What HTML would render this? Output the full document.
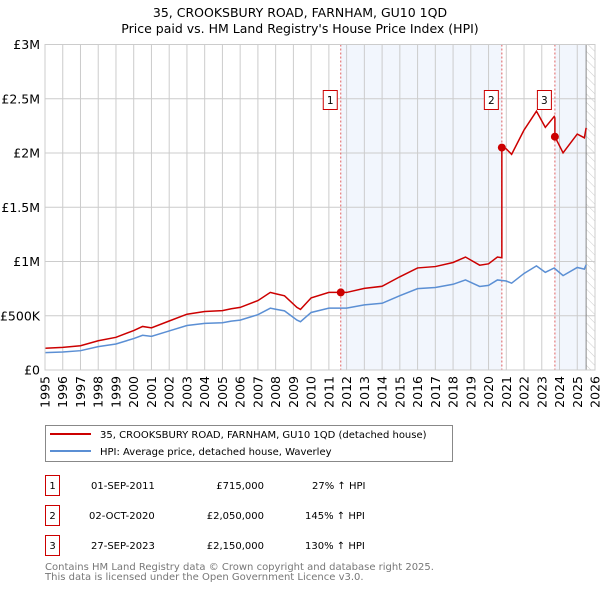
<!DOCTYPE html>
<html><head><meta charset="utf-8"><style>
body{margin:0;background:#fff;font-family:"DejaVu Sans","Liberation Sans",sans-serif;}
svg{display:block}
</style></head><body>
<svg id="c" width="600" height="590" xmlns="http://www.w3.org/2000/svg" font-family="DejaVu Sans, Liberation Sans, sans-serif">
<text x="300" y="17" text-anchor="middle" font-size="12.5" fill="#000">35, CROOKSBURY ROAD, FARNHAM, GU10 1QD</text>
<text x="300" y="33" text-anchor="middle" font-size="12.5" fill="#000">Price paid vs. HM Land Registry's House Price Index (HPI)</text>
<defs><pattern id="hatch" width="6" height="6" patternUnits="userSpaceOnUse" patternTransform="rotate(-45)"><line x1="0" y1="0" x2="0" y2="6" stroke="#ccc" stroke-width="1"/></pattern></defs>
<g id="plot"></g>
<g>
<rect x="45.5" y="425.5" width="407" height="36" fill="#fff" stroke="#888"/>
<line x1="50" y1="434" x2="91" y2="434" stroke="#cc0000" stroke-width="2"/>
<text x="100" y="438" font-size="10">35, CROOKSBURY ROAD, FARNHAM, GU10 1QD (detached house)</text>
<line x1="50" y1="451" x2="91" y2="451" stroke="#5b8fd4" stroke-width="2"/>
<text x="100" y="455" font-size="10">HPI: Average price, detached house, Waverley</text>
</g>
<g font-size="10">
<rect x="45.5" y="475.5" width="14" height="20" fill="#fff" stroke="#cc0000"/><text x="52.5" y="489" text-anchor="middle">1</text>
<text x="91" y="489">01-SEP-2011</text><text x="264" y="489" text-anchor="end">£715,000</text><text x="312" y="489">27% ↑ HPI</text>
<rect x="45.5" y="505.5" width="14" height="20" fill="#fff" stroke="#cc0000"/><text x="52.5" y="519" text-anchor="middle">2</text>
<text x="89" y="519">02-OCT-2020</text><text x="264" y="519" text-anchor="end">£2,050,000</text><text x="305" y="519">145% ↑ HPI</text>
<rect x="45.5" y="535.5" width="14" height="20" fill="#fff" stroke="#cc0000"/><text x="52.5" y="549" text-anchor="middle">3</text>
<text x="91" y="549">27-SEP-2023</text><text x="264" y="549" text-anchor="end">£2,150,000</text><text x="305" y="549">130% ↑ HPI</text>
</g>
<text x="45" y="570" font-size="10" fill="#777">Contains HM Land Registry data © Crown copyright and database right 2025.</text>
<text x="45" y="580" font-size="10" fill="#777">This data is licensed under the Open Government Licence v3.0.</text>
</svg>
<script>
const hpiYears=[1995,1996,1997,1998,1999,2000,2000.5,2001,2002,2003,2004,2005,2005.5,2006,2007,2007.7,2008,2008.5,2009.2,2009.4,2010,2011,2012,2013,2014,2015,2016,2017,2018,2018.7,2019.5,2020,2020.5,2021,2021.3,2022,2022.7,2023.2,2023.7,2024.2,2025,2025.4,2025.5];
const hpiValues=[0.16,0.166,0.178,0.215,0.24,0.29,0.32,0.31,0.36,0.41,0.43,0.436,0.45,0.46,0.51,0.57,0.56,0.545,0.46,0.445,0.53,0.57,0.57,0.6,0.615,0.685,0.75,0.76,0.79,0.83,0.77,0.78,0.83,0.82,0.8,0.89,0.96,0.9,0.94,0.87,0.945,0.93,0.97];
const saleYears=[2011.67,2020.75,2023.74];
const salePrices=[0.715,2.05,2.15];
const saleLabels=["1","2","3"];
const yTicks=[0,0.5,1,1.5,2,2.5,3];
const yTickLabels=["£0","£500K","£1M","£1.5M","£2M","£2.5M","£3M"];
const xTicks=[];for(let y=1995;y<=2026;y++)xTicks.push(y);
const X0=45,X1=595,Y0=370,Y1=44.5;
const sx=t=>X0+(t-1995)*(X1-X0)/31;
const sy=v=>Y0-(v/3)*(Y0-Y1);
const NS="http://www.w3.org/2000/svg";
const g=document.getElementById('plot');
function mk(tag,attrs){const e=document.createElementNS(NS,tag);for(const k in attrs)e.setAttribute(k,attrs[k]);g.appendChild(e);return e;}
function hpiAt(t){for(let i=0;i<hpiYears.length-1;i++){if(t<=hpiYears[i+1]){const f=(t-hpiYears[i])/(hpiYears[i+1]-hpiYears[i]);return hpiValues[i]+f*(hpiValues[i+1]-hpiValues[i]);}}return hpiValues[hpiValues.length-1];}
const endT=hpiYears[hpiYears.length-1];
for(let i=0;i<saleYears.length;i+=2){const a=saleYears[i],b=i+1<saleYears.length?saleYears[i+1]:endT;
 const r=mk('rect',{x:sx(a),y:Y1,width:sx(b)-sx(a),height:Y0-Y1,fill:'#f2f6fd'});
 
 }
const h=mk('rect',{x:sx(endT),y:Y1,width:X1-sx(endT),height:Y0-Y1,fill:'url(#hatch)'});


xTicks.forEach(t=>{const l=mk('line',{x1:sx(t),x2:sx(t),y1:Y1,y2:Y0,stroke:'#ccc','stroke-width':1});
 
 
 const tx=mk('text',{x:0,y:0,'font-size':12.5,'text-anchor':'end',transform:`translate(${sx(t)+4.5},${Y0+6}) rotate(-90)`});tx.textContent=t;
 
 });
yTicks.forEach((v,i)=>{const l=mk('line',{x1:X0,x2:X1,y1:sy(v),y2:sy(v),stroke:'#ccc','stroke-width':1});
 
 
 const tx=mk('text',{x:X0-5,y:sy(v)+4.5,'font-size':12.5,'text-anchor':'end'});tx.textContent=yTickLabels[i];
 
 });
const el=mk('line',{x1:sx(endT),x2:sx(endT),y1:Y1,y2:Y0,stroke:'#888','stroke-width':1});


saleYears.forEach(t=>{const l=mk('line',{x1:sx(t),x2:sx(t),y1:Y1,y2:Y0,stroke:'#e06060','stroke-width':1,'stroke-dasharray':'2,2'});
 
 });
const bp=mk('polyline',{points:hpiYears.map((t,i)=>sx(t)+','+sy(hpiValues[i])).join(' '),fill:'none',stroke:'#5b8fd4','stroke-width':1.5});


const pts=[];
function ratioAt(t){let k=-1;for(let i=0;i<saleYears.length;i++)if(t>=saleYears[i])k=i;if(k<0)k=0;return salePrices[k]/hpiAt(saleYears[k]);}
const ts=hpiYears.concat(saleYears).sort((a,b)=>a-b);
ts.forEach(t=>{
 const si=saleYears.indexOf(t);
 if(si>0){pts.push([t,hpiAt(t)*salePrices[si-1]/hpiAt(saleYears[si-1])]);}
 pts.push([t,hpiAt(t)*ratioAt(t)]);});
const rp=mk('polyline',{points:pts.map(p=>sx(p[0])+','+sy(p[1])).join(' '),fill:'none',stroke:'#cc0000','stroke-width':1.5});


saleYears.forEach((t,i)=>{
 const c=mk('circle',{cx:sx(t),cy:sy(salePrices[i]),r:4,fill:'#cc0000'});
 
 
 const bx=mk('rect',{x:sx(t)-17.5,y:90.5,width:14,height:19,fill:'#fff',stroke:'#cc0000'});
 
 
 const tx=mk('text',{x:sx(t)-10.5,y:104,'font-size':10.5,'text-anchor':'middle'});tx.textContent=saleLabels[i];
 
 });
const ax=mk('rect',{x:X0,y:Y1,width:X1-X0,height:Y0-Y1,fill:'none',stroke:'#ccc'});


</script>
</body></html>
